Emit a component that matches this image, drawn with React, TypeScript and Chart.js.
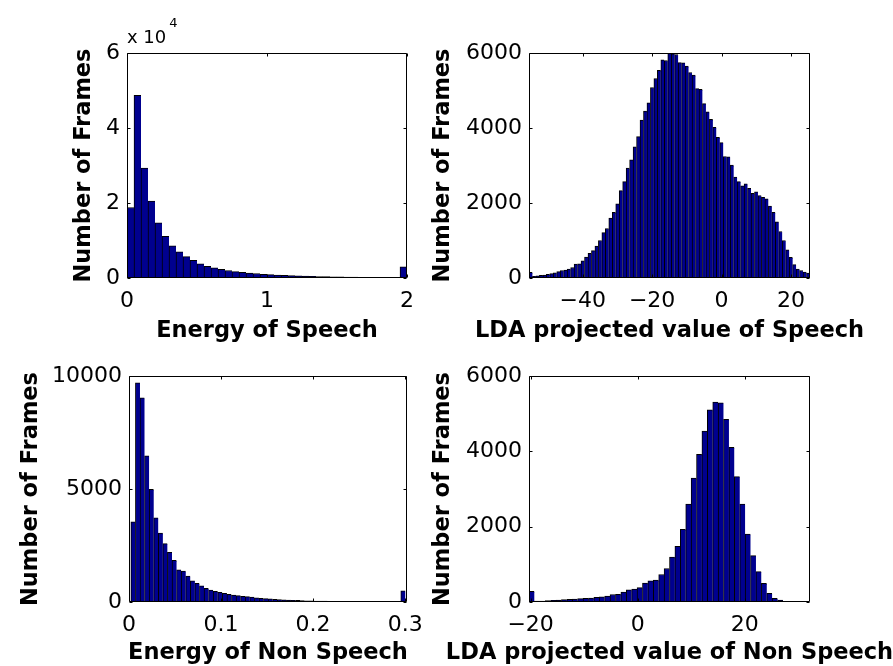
import React, { useEffect, useRef } from 'react';
import { Chart, registerables } from 'chart.js';

Chart.register(...registerables);

const PAGE_W = 893;
const PAGE_H = 666;

// ---------- Data: Energy of Speech (top-left) ----------
const speechEnergyBinStart = 0;
const speechEnergyBinWidth = 0.05;
const speechEnergyCounts = [
  18800, 48700, 29300, 20500, 14700, 11100, 8600, 7000, 5700, 4700,
  3800, 3100, 2700, 2300, 2000, 1700, 1500, 1300, 1200, 1000,
  900, 800, 700, 650, 600, 500, 450, 400, 350, 300,
  280, 250, 220, 200, 180, 160, 150, 140, 130, 3000,
];
const speechEnergyXTicks = [0, 1, 2];
const speechEnergyYTicks = [0, 20000, 40000, 60000];

// ---------- Data: LDA projected value of Speech (top-right) ----------
const speechLdaBinStart = -55.5;
const speechLdaBinWidth = 1;
const speechLdaCounts = [
  150, 45, 55, 70, 80, 95, 115, 140, 170, 200,
  210, 240, 280, 370, 380, 460, 560, 660, 730, 850,
  1000, 1210, 1320, 1600, 1750, 1980, 2330, 2570, 2930, 3150,
  3500, 3770, 4210, 4450, 4670, 5080, 5320, 5540, 5820, 5800,
  5990, 5980, 5960, 5745, 5740, 5650, 5480, 5410, 5050, 5030,
  4650, 4430, 4230, 4020, 3750, 3610, 3240, 3230, 3010, 2690,
  2570, 2460, 2510, 2390, 2260, 2300, 2200, 2150, 2110, 1920,
  1750, 1500, 1240, 1000, 750, 550, 355, 240, 200, 160,
  130,
];
const speechLdaXTicks = [-40, -20, 0, 20];
const speechLdaYTicks = [0, 2000, 4000, 6000];

// ---------- Data: Energy of Non Speech (bottom-left) ----------
const nonSpeechEnergyBinStart = 0.002;
const nonSpeechEnergyBinWidth = 0.00497;
const nonSpeechEnergyCounts = [
  3550, 9700, 9030, 6470, 4990, 3720, 3050, 2580, 2200, 1840,
  1420, 1370, 1150, 940, 830, 710, 600, 530, 470, 430,
  380, 340, 310, 280, 250, 240, 220, 190, 160, 150,
  135, 120, 105, 95, 85, 75, 70, 62, 55, 50,
  45, 40, 36, 32, 28, 25, 22, 20, 18, 16,
  14, 12, 10, 9, 8, 7, 6, 5, 5, 490,
];
const nonSpeechEnergyXTicks = [0, 0.1, 0.2, 0.3];
const nonSpeechEnergyYTicks = [0, 5000, 10000];

// ---------- Data: LDA projected value of Non Speech (bottom-right) ----------
const nonSpeechLdaBinStart = -20.3;
const nonSpeechLdaBinWidth = 1.0096;
const nonSpeechLdaCounts = [
  280, 27, 27, 35, 44, 53, 62, 70, 80, 88,
  97, 105, 125, 140, 160, 200, 205, 265, 320, 345,
  380, 500, 560, 580, 730, 890, 1190, 1480, 1930, 2600,
  3290, 3920, 4540, 5100, 5310, 5290, 4850, 4106, 3327, 2602,
  1805, 1230, 805, 496, 230, 97, 53, 18, 0, 0,
  0, 0,
];
const nonSpeechLdaXTicks = [-20, 0, 20];
const nonSpeechLdaYTicks = [0, 2000, 4000, 6000];

const BAR_FILL = '#00008f';
const BAR_EDGE = '#000000';
const FONT = '"DejaVu Sans", sans-serif';
const TITLE_SIZE = 22.5;
const TICK_SIZE = 22;

const minusFmt = (v: number) => String(v).replace('-', '\u2212');

type Panel = {
  counts: number[];
  binStart: number;
  binWidth: number;
  xMin: number;
  xMax: number;
  xTicks: number[];
  yMax: number;
  yTicks: number[];
  xTitle: string;
  yTitle: string;
  yFmt: (v: number) => string;
  exponent?: { base: string; power: string };
  left: number;
  top: number;
  right: number;
  bottom: number;
  yTitleX: number;
  xTitleY: number;
};

const panels: Panel[] = [
  {
    counts: speechEnergyCounts, binStart: speechEnergyBinStart, binWidth: speechEnergyBinWidth,
    xMin: 0, xMax: 2, xTicks: speechEnergyXTicks, yMax: 60000, yTicks: speechEnergyYTicks,
    xTitle: 'Energy of Speech', yTitle: 'Number of Frames',
    yFmt: (v) => String(v / 10000), exponent: { base: 'x 10', power: '4' },
    left: 127, top: 53, right: 407, bottom: 278, yTitleX: 84, xTitleY: 331.5,
  },
  {
    counts: speechLdaCounts, binStart: speechLdaBinStart, binWidth: speechLdaBinWidth,
    xMin: -55.5, xMax: 25.5, xTicks: speechLdaXTicks, yMax: 6000, yTicks: speechLdaYTicks,
    xTitle: 'LDA projected value of Speech', yTitle: 'Number of Frames',
    yFmt: (v) => String(v),
    left: 529, top: 53, right: 810, bottom: 278, yTitleX: 443, xTitleY: 331.5,
  },
  {
    counts: nonSpeechEnergyCounts, binStart: nonSpeechEnergyBinStart, binWidth: nonSpeechEnergyBinWidth,
    xMin: 0, xMax: 0.302, xTicks: nonSpeechEnergyXTicks, yMax: 10000, yTicks: nonSpeechEnergyYTicks,
    xTitle: 'Energy of Non Speech', yTitle: 'Number of Frames',
    yFmt: (v) => String(v),
    left: 129, top: 376, right: 407, bottom: 602, yTitleX: 31, xTitleY: 653,
  },
  {
    counts: nonSpeechLdaCounts, binStart: nonSpeechLdaBinStart, binWidth: nonSpeechLdaBinWidth,
    xMin: -20.3, xMax: 32.2, xTicks: nonSpeechLdaXTicks, yMax: 6000, yTicks: nonSpeechLdaYTicks,
    xTitle: 'LDA projected value of Non Speech', yTitle: 'Number of Frames',
    yFmt: (v) => String(v),
    left: 529, top: 376, right: 810, bottom: 602, yTitleX: 443, xTitleY: 653,
  },
];

const boxPlugin = {
  id: 'matlabBox',
  afterDatasetsDraw(chart: any) {
    const { ctx, chartArea: a, scales } = chart;
    const L = Math.round(a.left) + 0.5;
    const T = Math.round(a.top) + 0.5;
    const R = Math.round(a.right) - 0.5;
    const B = Math.round(a.bottom) - 0.5;
    const tl = 3;
    ctx.save();
    ctx.strokeStyle = '#000';
    ctx.lineWidth = 1;
    ctx.beginPath();
    ctx.rect(L, T, R - L, B - T);
    scales.x.ticks.forEach((t: any) => {
      const px = Math.round(scales.x.getPixelForValue(t.value)) + 0.5;
      ctx.moveTo(px, B); ctx.lineTo(px, B - tl);
      ctx.moveTo(px, T); ctx.lineTo(px, T + tl);
    });
    scales.y.ticks.forEach((t: any) => {
      const py = Math.round(scales.y.getPixelForValue(t.value)) + 0.5;
      ctx.moveTo(L, py); ctx.lineTo(L + tl, py);
      ctx.moveTo(R, py); ctx.lineTo(R - tl, py);
    });
    ctx.stroke();
    ctx.restore();
  },
};

// x-axis titles are wider than the plot box in the reference, so they are drawn
// here without Chart.js's maxWidth squeezing.
const xTitlePlugin = {
  id: 'xTitleFree',
  afterDraw(chart: any, _args: any, opts: any) {
    if (!opts || !opts.text) return;
    const { ctx, chartArea: a } = chart;
    ctx.save();
    ctx.fillStyle = '#000';
    ctx.textAlign = 'center';
    ctx.textBaseline = 'middle';
    ctx.font = `bold ${TITLE_SIZE}px ${FONT}`;
    ctx.fillText(opts.text, (a.left + a.right) / 2, opts.y);
    ctx.restore();
  },
};

const exponentPlugin = {
  id: 'exponentLabel',
  afterDraw(chart: any, _args: any, opts: any) {
    if (!opts || !opts.base) return;
    const { ctx, chartArea: a } = chart;
    ctx.save();
    ctx.fillStyle = '#000';
    ctx.textAlign = 'left';
    ctx.textBaseline = 'alphabetic';
    ctx.font = `18px ${FONT}`;
    ctx.fillText(opts.base, a.left, a.top - 10);
    const w = ctx.measureText(opts.base).width;
    ctx.font = `13px ${FONT}`;
    ctx.fillText(opts.power, a.left + w + 3, a.top - 26);
    ctx.restore();
  },
};

function makeConfig(p: Panel): any {
  const data = p.counts.map((c, i) => ({ x: p.binStart + p.binWidth * (i + 0.5), y: c }));
  const titleHalf = TITLE_SIZE * 1.2 / 2;
  const xScaleH = 50;
  const yScaleLeft = p.yTitleX - titleHalf;
  return {
    type: 'bar',
    data: {
      datasets: [
        {
          data,
          backgroundColor: BAR_FILL,
          borderColor: BAR_EDGE,
          borderWidth: { left: 1, top: 1, right: 0, bottom: 0 },
          borderSkipped: false,
          barPercentage: 1,
          categoryPercentage: 1,
        },
      ],
    },
    options: {
      responsive: false,
      animation: false,
      events: [],
      layout: {
        padding: {
          left: yScaleLeft,
          top: p.top,
          right: PAGE_W - p.right,
          bottom: PAGE_H - p.bottom - xScaleH,
        },
      },
      plugins: {
        legend: { display: false },
        tooltip: { enabled: false },
        exponentLabel: p.exponent ? { ...p.exponent } : { base: '' },
        xTitleFree: { text: p.xTitle, y: p.xTitleY },
      },
      scales: {
        x: {
          type: 'linear',
          offset: false,
          min: p.xMin,
          max: p.xMax,
          grid: { display: false, drawTicks: false },
          border: { display: false },
          afterBuildTicks: (s: any) => { s.ticks = p.xTicks.map((v) => ({ value: v })); },
          afterFit: (s: any) => {
            s.height = xScaleH;
            s.paddingLeft = 0; s.paddingRight = 0; s.paddingTop = 0; s.paddingBottom = 0;
          },
          ticks: {
            autoSkip: false,
            maxRotation: 0,
            minRotation: 0,
            padding: 10,
            color: '#000',
            font: { family: FONT, size: TICK_SIZE },
            callback: (v: number) => minusFmt(v),
          },
          title: { display: false },
        },
        y: {
          type: 'linear',
          min: 0,
          max: p.yMax,
          grid: { display: false, drawTicks: false },
          border: { display: false },
          afterBuildTicks: (s: any) => { s.ticks = p.yTicks.map((v) => ({ value: v })); },
          afterFit: (s: any) => {
            s.width = p.left - yScaleLeft;
            s.paddingLeft = 0; s.paddingRight = 0; s.paddingTop = 0; s.paddingBottom = 0;
          },
          ticks: {
            autoSkip: false,
            padding: 7,
            color: '#000',
            font: { family: FONT, size: TICK_SIZE },
            callback: (v: number) => p.yFmt(v),
          },
          title: {
            display: true,
            text: p.yTitle,
            color: '#000',
            font: { family: FONT, size: TITLE_SIZE, weight: 'bold' },
            padding: { top: 0, bottom: 0 },
          },
        },
      },
    },
    plugins: [boxPlugin, xTitlePlugin, exponentPlugin],
  };
}

function App() {
  const r0 = useRef<HTMLCanvasElement>(null);
  const r1 = useRef<HTMLCanvasElement>(null);
  const r2 = useRef<HTMLCanvasElement>(null);
  const r3 = useRef<HTMLCanvasElement>(null);
  const refs = [r0, r1, r2, r3];

  useEffect(() => {
    const charts = panels.map((p, i) => new Chart(refs[i].current as HTMLCanvasElement, makeConfig(p)));
    return () => charts.forEach((c) => c.destroy());
  }, []);

  return (
    <div style={{ position: 'absolute', left: 0, top: 0, width: PAGE_W, height: PAGE_H, background: '#fff', overflow: 'hidden' }}>
      {refs.map((r, i) => (
        <canvas
          key={i}
          ref={r}
          width={PAGE_W}
          height={PAGE_H}
          style={{ position: 'absolute', left: 0, top: 0, width: PAGE_W, height: PAGE_H }}
        />
      ))}
    </div>
  );
}

export default App;
